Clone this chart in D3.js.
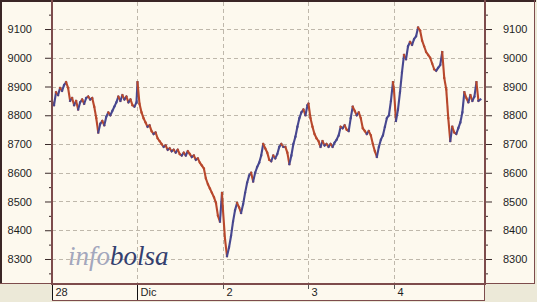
<!DOCTYPE html>
<html>
<head>
<meta charset="utf-8">
<script src="https://cdn.jsdelivr.net/npm/d3@7"></script>
<style>
  body { margin: 0; background: #ece9d8; }
  svg { display: block; }
</style>
</head>
<body>
<svg id="chart"></svg>
<script>
// intraday index, one value every 12 minutes of a 9:00-17:30 session
const dayLabels = ['28', 'Dic', '2', '3', '4'];
const fullTickLabels = ['28', 'Dic'];   // month marks get a full-height tick
const day28 = [8850, 8835, 8880, 8870, 8895, 8885, 8905, 8915, 8895, 8850, 8860, 8835, 8850, 8820, 8845,
  8855, 8840, 8860, 8865, 8855, 8860, 8830, 8790, 8740, 8770, 8780, 8765, 8795, 8810, 8800, 8815, 8830,
  8845, 8865, 8850, 8870, 8855, 8865, 8845, 8855, 8835, 8830, 8845];
const day1 = [8915, 8840, 8810, 8790, 8775, 8760, 8765, 8745, 8735, 8740, 8720, 8710, 8700, 8690, 8695,
  8680, 8685, 8675, 8680, 8670, 8680, 8665, 8660, 8670, 8660, 8675, 8665, 8655, 8660, 8645, 8650, 8635,
  8625, 8615, 8580, 8560, 8545, 8530, 8515, 8495, 8450, 8430, 8530];
const day2 = [8470, 8370, 8310, 8340, 8380, 8430, 8470, 8495, 8480, 8460, 8490, 8530, 8565, 8590, 8600,
  8570, 8600, 8620, 8635, 8660, 8700, 8685, 8670, 8645, 8640, 8660, 8650, 8665, 8690, 8700, 8690, 8690,
  8670, 8630, 8660, 8700, 8725, 8760, 8790, 8810, 8820, 8800, 8835];
const day3 = [8840, 8790, 8760, 8735, 8720, 8710, 8690, 8710, 8695, 8700, 8690, 8700, 8690, 8705, 8715,
  8730, 8760, 8755, 8765, 8750, 8745, 8790, 8830, 8815, 8800, 8810, 8790, 8755, 8745, 8735, 8745, 8730,
  8700, 8675, 8655, 8690, 8715, 8730, 8760, 8790, 8800, 8850, 8915];
const day4 = [8890, 8780, 8820, 8880, 8950, 9010, 8995, 9040, 9055, 9045, 9065, 9075, 9105, 9095, 9060,
  9040, 9020, 9010, 9000, 8980, 8960, 8955, 8965, 8975, 9020, 8930, 8890, 8790, 8710, 8760, 8740, 8735,
  8755, 8775, 8810, 8880, 8860, 8845, 8870, 8850, 8865, 8915, 8850, 8855];
const days = [day28, day1, day2, day3, day4];
const yMajor = [8300, 8400, 8500, 8600, 8700, 8800, 8900, 9000, 9100];
const yMinor = [8250, 8350, 8450, 8550, 8650, 8750, 8850, 8950, 9050, 9150];
const stepMinutes = 12;
const sessionMinutes = 510;

const width = 537, height = 302;
const plotLeft = 52, plotRight = 485, plotTop = 2, plotBottom = 284;

const svg = d3.select('#chart').attr('width', width).attr('height', height);

const x = d3.scaleLinear().domain([0, 5.065]).range([plotLeft, plotRight]);
const y = d3.scaleLinear().domain([8213, 9194]).range([plotBottom, plotTop]);

const points = [];
days.forEach((vals, d) => {
  vals.forEach((v, i) => points.push({ t: d + i * stepMinutes / sessionMinutes, v }));
});

const cream = '#fdf9ee';
const frame = '#7d4c4c';

// panels
svg.append('rect').attr('x', 0).attr('y', 0).attr('width', 535).attr('height', 284).attr('fill', cream);
svg.append('rect').attr('x', plotLeft).attr('y', 284).attr('width', plotRight - plotLeft).attr('height', 17).attr('fill', cream);

// grid
const grid = svg.append('g').attr('stroke', '#bfb8ab').attr('stroke-dasharray', '4 3').attr('stroke-width', 1);
yMajor.forEach(v => {
  grid.append('line')
    .attr('x1', plotLeft).attr('x2', plotRight)
    .attr('y1', Math.round(y(v)) + 0.5).attr('y2', Math.round(y(v)) + 0.5);
});
d3.range(1, dayLabels.length).forEach(d => {
  grid.append('line')
    .attr('x1', Math.round(x(d)) + 0.5).attr('x2', Math.round(x(d)) + 0.5)
    .attr('y1', plotTop).attr('y2', plotBottom);
});

// watermark
const wm = svg.append('text')
  .attr('x', 68).attr('y', 265)
  .attr('font-family', '"Liberation Serif", "DejaVu Serif", serif')
  .attr('font-style', 'italic')
  .attr('font-size', 27);
wm.append('tspan').attr('fill', '#a3a7bd').text('info');
wm.append('tspan').attr('fill', '#34406f').text('bolsa');

// price segments: blue when rising, red when falling
const segs = d3.pairs(points);
svg.append('g').selectAll('line')
  .data(segs)
  .join('line')
  .attr('x1', d => x(d[0].t)).attr('y1', d => y(d[0].v))
  .attr('x2', d => x(d[1].t)).attr('y2', d => y(d[1].v))
  .attr('stroke', d => d[1].v >= d[0].v ? '#47478f' : '#b8482c')
  .attr('stroke-width', 2.1)
  .attr('stroke-linecap', 'square');

// y axes
function styleAxis(g) {
  g.select('.domain').remove();
  g.selectAll('line').attr('stroke', '#3a2a2a');
  g.selectAll('text')
    .attr('font-family', '"Liberation Sans", Arial, sans-serif')
    .attr('font-size', 11)
    .attr('fill', '#1e1e1e');
}
svg.append('g').attr('transform', `translate(${plotLeft},0)`)
  .call(d3.axisLeft(y).tickValues(yMajor).tickSize(7).tickPadding(13).tickFormat(d3.format('d')))
  .call(styleAxis);
svg.append('g').attr('transform', `translate(${plotLeft},0)`)
  .call(d3.axisLeft(y).tickValues(yMinor).tickSize(3).tickFormat(''))
  .call(styleAxis);
svg.append('g').attr('transform', `translate(${plotRight},0)`)
  .call(d3.axisRight(y).tickValues(yMajor).tickSize(7).tickPadding(11).tickFormat(d3.format('d')))
  .call(styleAxis);
svg.append('g').attr('transform', `translate(${plotRight},0)`)
  .call(d3.axisRight(y).tickValues(yMinor).tickSize(3).tickFormat(''))
  .call(styleAxis);

// frame
svg.append('line').attr('x1', 0).attr('x2', 536).attr('y1', 1).attr('y2', 1).attr('stroke', '#3a2626').attr('stroke-width', 2);
svg.append('line').attr('x1', 1).attr('x2', 1).attr('y1', 0).attr('y2', 284).attr('stroke', '#3a2626').attr('stroke-width', 2);
svg.append('line').attr('x1', 534.5).attr('x2', 534.5).attr('y1', 0).attr('y2', 283).attr('stroke', frame);
svg.append('line').attr('x1', 0).attr('x2', plotLeft).attr('y1', 283.5).attr('y2', 283.5).attr('stroke', frame);
svg.append('line').attr('x1', plotRight).attr('x2', 535).attr('y1', 283.5).attr('y2', 283.5).attr('stroke', frame);
svg.append('line').attr('x1', plotLeft).attr('x2', plotLeft).attr('y1', 0).attr('y2', 285).attr('stroke', frame).attr('stroke-width', 2);
svg.append('line').attr('x1', plotRight).attr('x2', plotRight).attr('y1', 0).attr('y2', 285).attr('stroke', frame).attr('stroke-width', 2);
svg.append('line').attr('x1', plotLeft).attr('x2', plotRight).attr('y1', 284).attr('y2', 284).attr('stroke', frame).attr('stroke-width', 2);
svg.append('line').attr('x1', plotLeft).attr('x2', plotRight).attr('y1', 300.5).attr('y2', 300.5).attr('stroke', frame);
svg.append('line').attr('x1', plotRight - 0.5).attr('x2', plotRight - 0.5).attr('y1', 284).attr('y2', 301).attr('stroke', frame);

// x axis strip
const xg = svg.append('g');
dayLabels.forEach((lab, d) => {
  const px = Math.round(x(d)) + 0.5;
  const full = fullTickLabels.includes(lab);
  xg.append('line')
    .attr('x1', px).attr('x2', px)
    .attr('y1', 285).attr('y2', full ? 300 : 289)
    .attr('stroke', full ? '#111' : '#555');
  xg.append('text')
    .attr('x', px + 3).attr('y', 296)
    .attr('font-family', '"Liberation Sans", Arial, sans-serif')
    .attr('font-size', 11)
    .attr('fill', '#1e1e1e')
    .text(lab);
});
</script>
</body>
</html>
